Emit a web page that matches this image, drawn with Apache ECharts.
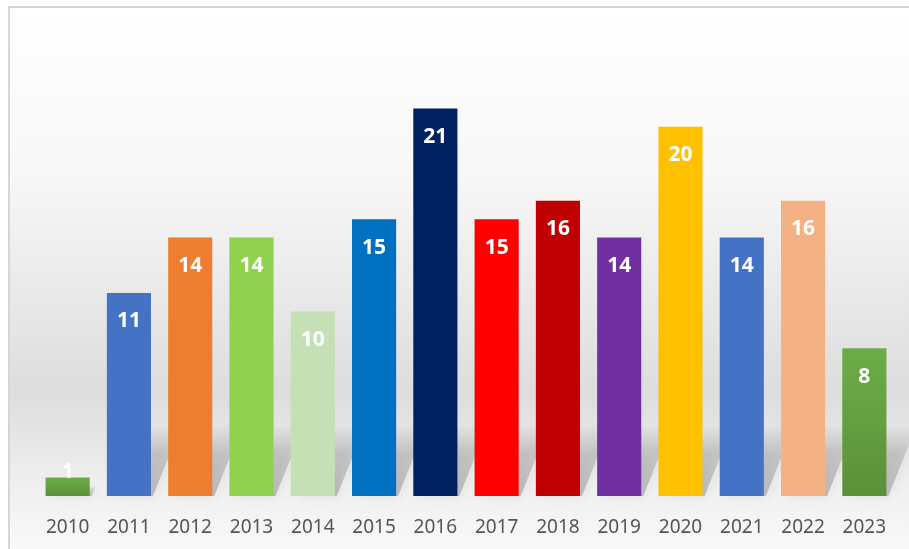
<!DOCTYPE html>
<html>
<head>
<meta charset="utf-8">
<script src="https://cdn.jsdelivr.net/npm/echarts@6/dist/echarts.min.js"></script>
<style>html,body{margin:0;padding:0;background:#fff}#c{width:909px;height:549px}</style>
</head>
<body>
<div id="c"></div>
<script>
const years = ['2010','2011','2012','2013','2014','2015','2016','2017','2018','2019','2020','2021','2022','2023'];
const counts = [1,11,14,14,10,15,21,15,16,14,20,14,16,8];
const barColors = ['#6aa845','#4472C4','#ED7D31','#92D050','#C5E0B4','#0070C0','#002060','#FF0000','#C00000','#7030A0','#FFC000','#4472C4','#F4B183','#6aa845'];
const greenBottom = '#5b9039';

const chart = echarts.init(document.getElementById('c'), null, {renderer: 'canvas'});

const barData = counts.map((v, i) => {
  const isGreen = barColors[i] === '#6aa845';
  const item = {
    value: v,
    itemStyle: {
      color: isGreen ? new echarts.graphic.LinearGradient(0,0,0,1,[{offset:0,color:'#6dad47'},{offset:1,color:greenBottom}]) : barColors[i]
    }
  };
  if (v < 3) {
    item.label = {position: 'top', distance: -5};
  }
  return item;
});

const option = {
  animation: false,
  graphic: [
    {
      type: 'rect', z: -10, silent: true,
      shape: {x: 9, y: 7, width: 910, height: 560},
      style: {
        fill: new echarts.graphic.LinearGradient(0,0,0,1,[
          {offset:0,color:'#ffffff'},
          {offset:0.3,color:'#f7f7f7'},
          {offset:0.69,color:'#dddddd'},
          {offset:0.84,color:'#eeeeee'},
          {offset:1,color:'#fcfcfc'}
        ]),
        stroke: '#d6d6d6', lineWidth: 2
      }
    }
  ],
  grid: {left: 37, right: 14, top: 53, bottom: 53, containLabel: false},
  xAxis: {
    type: 'category',
    data: years,
    axisLine: {show: false},
    axisTick: {show: false},
    axisLabel: {color: '#555555', fontSize: 19, fontFamily: 'Noto Sans', margin: 22}
  },
  yAxis: {
    type: 'value', min: 0, max: 24,
    show: false,
    splitLine: {show: false}
  },
  series: [
    {
      type: 'custom',
      z: 1,
      silent: true,
      renderItem: function (params, api) {
        const base = api.coord([api.value(0), 0]);
        const top = api.coord([api.value(0), api.value(1)]);
        const bw = api.size([1, 0])[0] * 0.72;
        const xl = base[0] - bw / 2;
        const xr = base[0] + bw / 2;
        const h = Math.min((base[1] - top[1]) * 0.55, 72);
        const skew = h * 0.4;
        return {
          type: 'polygon',
          shape: {points: [[xl + 6, base[1]], [xr + 2, base[1]], [xr + 2 + skew, base[1] - h], [xl + 6 + skew, base[1] - h]]},
          style: {
            fill: new echarts.graphic.LinearGradient(0,1,0,0,[{offset:0,color:'rgba(100,100,100,0.35)'},{offset:0.6,color:'rgba(110,110,110,0.25)'},{offset:1,color:'rgba(130,130,130,0.0)'}]),
            shadowBlur: 12, shadowColor: 'rgba(90,90,90,0.35)'
          }
        };
      },
      data: counts.map((v, i) => [i, v])
    },
    {
      type: 'bar',
      z: 2,
      barWidth: '72%',
      data: barData,
      label: {
        show: true,
        position: 'insideTop',
        distance: 18,
        color: '#ffffff',
        fontSize: 21,
        fontWeight: 'bold',
        fontFamily: 'Noto Sans'
      }
    }
  ]
};
chart.setOption(option);
</script>
</body>
</html>
